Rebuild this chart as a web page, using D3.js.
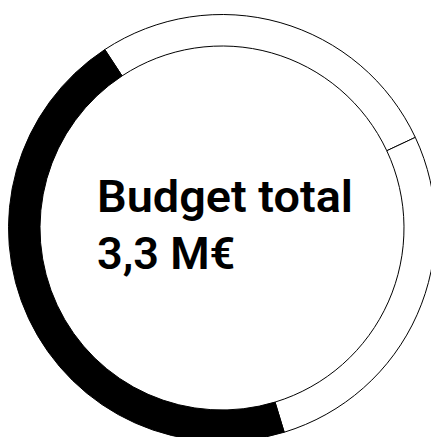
<!DOCTYPE html>
<html>
<head>
<meta charset="utf-8">
<script src="https://cdn.jsdelivr.net/npm/d3@7"></script>
<style>
  html, body { margin: 0; padding: 0; background: #fff; }
  svg { display: block; }
</style>
</head>
<body>
<div id="viz"></div>
<script>
// budget parts in M€, clockwise from the top-left
const parts = ["Part A", "Part B", "Part C"];
const amounts = [0.9, 0.9, 1.5];
const fills = ["#ffffff", "#ffffff", "#000000"];
const titleLines = ["Budget total", "3,3 M€"];

document.addEventListener("DOMContentLoaded", () => {
  const width = 431;
  const height = 437;
  const cx = 222, cy = 228;
  const outerR = 213.5, innerR = 182;

  const svg = d3.select("#viz")
    .append("svg")
      .attr("width", width)
      .attr("height", height);

  const g = svg.append("g")
    .attr("transform", `translate(${cx},${cy})`);

  const data = parts.map((p, i) => ({ part: p, value: amounts[i], fill: fills[i] }));

  const startDeg = -33.3;
  const pie = d3.pie()
    .value(d => d.value)
    .sort(null)
    .startAngle(startDeg * Math.PI / 180)
    .endAngle((startDeg + 360) * Math.PI / 180);

  const arc = d3.arc()
    .innerRadius(innerR)
    .outerRadius(outerR);

  g.selectAll("path")
    .data(pie(data))
    .join("path")
      .attr("d", arc)
      .attr("fill", d => d.data.fill)
      .attr("stroke", "#000")
      .attr("stroke-width", 1);

  const text = svg.append("g")
    .attr("font-family", "Roboto, 'Noto Sans', sans-serif")
    .attr("font-weight", 600)
    .attr("font-size", 45)
    .attr("fill", "#000");

  const baselines = [212, 269];
  const targetWidths = [256, 0];
  titleLines.forEach((line, i) => {
    const t = text.append("text")
      .attr("x", 97)
      .attr("y", baselines[i])
      .text(line);
    if (targetWidths[i]) {
      t.attr("textLength", targetWidths[i]).attr("lengthAdjust", "spacingAndGlyphs");
    }
  });
});
</script>
</body>
</html>
